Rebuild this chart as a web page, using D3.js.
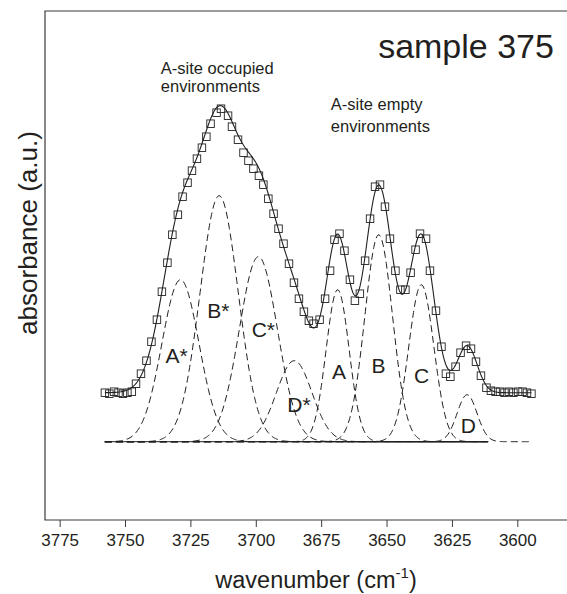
<!DOCTYPE html>
<html>
<head>
<meta charset="utf-8">
<script src="https://cdn.jsdelivr.net/npm/d3@7"></script>
<style>
	html, body { margin: 0; padding: 0; background: #fff; }
	svg { display: block; font-family: "Liberation Sans", Arial, sans-serif; }
</style>
</head>
<body>
<svg id="spectrum" width="567" height="594"></svg>
<script>
// measured spectrum (squares)
const wavenumber = [
	3757.7, 3756.0, 3754.2, 3752.5, 3750.8, 3749.1, 3747.4, 3745.8, 3743.9, 3741.8,
	3739.9, 3737.8, 3735.9, 3733.8, 3731.9, 3729.8, 3728.0, 3726.1, 3724.4, 3722.5,
	3720.6, 3718.9, 3717.3, 3715.0, 3713.3, 3710.6, 3709.1, 3706.8, 3704.7, 3702.8,
	3700.9, 3698.8, 3697.1, 3695.2, 3693.2, 3691.3, 3689.4, 3687.3, 3685.4, 3683.5,
	3681.6, 3679.7, 3677.9, 3675.6, 3673.5, 3671.6, 3669.9, 3668.0, 3666.1, 3664.0,
	3662.1, 3660.2, 3658.2, 3656.3, 3654.4, 3652.5, 3650.6, 3648.7, 3646.6, 3644.7,
	3642.8, 3640.8, 3638.9, 3637.2, 3634.9, 3633.4, 3631.1, 3629.0, 3627.3, 3625.6,
	3623.6, 3621.7, 3619.6, 3617.7, 3615.8, 3613.9, 3611.8, 3610.1, 3608.3, 3606.6,
	3604.9, 3603.2, 3601.5, 3599.7, 3598.0, 3596.3, 3594.6
];
const absorbance = [
	0.49, 0.48, 0.50, 0.49, 0.48, 0.49, 0.50, 0.58, 0.68, 0.81,
	1.00, 1.22, 1.50, 1.79, 2.07, 2.27, 2.45, 2.59, 2.71, 2.83,
	2.94, 3.05, 3.18, 3.29, 3.33, 3.26, 3.15, 3.02, 2.89, 2.81,
	2.73, 2.66, 2.57, 2.43, 2.28, 2.13, 1.98, 1.78, 1.59, 1.43,
	1.30, 1.21, 1.18, 1.22, 1.43, 1.71, 2.02, 2.08, 1.91, 1.62,
	1.41, 1.48, 1.81, 2.23, 2.55, 2.57, 2.35, 2.03, 1.71, 1.52,
	1.52, 1.69, 1.92, 2.08, 2.03, 1.71, 1.31, 0.95, 0.68, 0.65,
	0.75, 0.89, 0.96, 0.93, 0.80, 0.66, 0.54, 0.51, 0.50, 0.50,
	0.49, 0.50, 0.49, 0.50, 0.50, 0.49, 0.48
];

// fitted gaussian components
const bandNames = ["A*", "B*", "C*", "D*", "A", "B", "C", "D"];
const bandCenter = [3728.8, 3714.0, 3699.0, 3685.3, 3668.7, 3653.0, 3636.7, 3619.2];
const bandHeight = [1.62, 2.46, 1.85, 0.81, 1.52, 2.07, 1.57, 0.47];
const bandSigma = [7.1, 7.3, 7.3, 6.8, 4.4, 5.3, 4.8, 3.8];
const bandLabelX = [3730.3, 3714.3, 3697.1, 3683.5, 3668.2, 3653.1, 3636.6, 3618.7];
const bandLabelY = [0.79, 1.24, 1.05, 0.30, 0.63, 0.69, 0.59, 0.09];
const fitOffset = 0.49;
const componentEnd = 3611;

const xTicks = [3775, 3750, 3725, 3700, 3675, 3650, 3625, 3600];

const svg = d3.select("#spectrum");
const INK = "#231f20";

const x = d3.scaleLinear().domain([3780.6, 3579.85]).range([45, 570]);
const y = d3.scaleLinear().domain([-0.783, 4.307]).range([520, 11]);

const gauss = (i, w) => bandHeight[i] * Math.exp(-((w - bandCenter[i]) ** 2) / (2 * bandSigma[i] ** 2));

const wStart = wavenumber[0];
const wEnd = wavenumber[wavenumber.length - 1];
const grid = d3.range(wStart, wEnd - 0.01, -0.4);
grid.push(wEnd);

const line = d3.line().x((d) => x(d[0])).y((d) => y(d[1]));

// frame
svg.append("path")
	.attr("d", `M570,${y.range()[1]}H${x.range()[0]}V${y.range()[0]}H570`)
	.attr("fill", "none")
	.attr("stroke", "#3a3a3a")
	.attr("stroke-width", 1.2);

const xAxis = svg.append("g")
	.attr("transform", `translate(0,${y.range()[0]})`)
	.call(d3.axisBottom(x).tickValues(xTicks).tickSize(7).tickPadding(7).tickFormat(d3.format("d")));
xAxis.select(".domain").remove();
xAxis.selectAll(".tick line").attr("stroke", "#3a3a3a");
xAxis.selectAll(".tick text")
	.attr("fill", INK)
	.attr("font-size", 17)
	.attr("font-family", "Liberation Sans, Arial, sans-serif");

// baseline under the components
svg.append("path")
	.attr("d", line([[wStart, 0], [componentEnd, 0]]))
	.attr("stroke", INK)
	.attr("stroke-width", 1)
	.attr("fill", "none");

// dashed components
bandNames.forEach((name, i) => {
	const last = i === bandNames.length - 1 ? wEnd : componentEnd;
	const pts = grid.filter((w) => w >= last).map((w) => [w, gauss(i, w)]);
	svg.append("path")
		.attr("d", line(pts))
		.attr("fill", "none")
		.attr("stroke", INK)
		.attr("stroke-width", 1)
		.attr("stroke-dasharray", "7,4");
});

// fit = sum of components + offset
const fitPts = grid.map((w) => [w, fitOffset + d3.sum(bandNames, (_, i) => gauss(i, w))]);
svg.append("path")
	.attr("d", line(fitPts))
	.attr("fill", "none")
	.attr("stroke", INK)
	.attr("stroke-width", 1.1);

// data squares
const SQ = 7.5;
svg.append("g")
	.selectAll("rect")
	.data(wavenumber.map((w, i) => [w, absorbance[i]]))
	.join("rect")
	.attr("x", (d) => x(d[0]) - SQ / 2)
	.attr("y", (d) => y(d[1]) - SQ / 2)
	.attr("width", SQ)
	.attr("height", SQ)
	.attr("fill", "none")
	.attr("stroke", "#222")
	.attr("stroke-width", 0.9);

// band labels
svg.append("g")
	.selectAll("text")
	.data(bandNames)
	.join("text")
	.attr("x", (d, i) => x(bandLabelX[i]))
	.attr("y", (d, i) => y(bandLabelY[i]))
	.attr("text-anchor", "middle")
	.attr("font-size", 21)
	.attr("fill", INK)
	.text((d) => d);

// annotations
const note = (w, a, txt, size) => svg.append("text")
	.attr("x", x(w))
	.attr("y", y(a))
	.attr("font-size", size)
	.attr("fill", INK)
	.text(txt);

note(3736.3, 3.68, "A-site occupied", 16.5);
note(3736.3, 3.50, "environments", 16.5);
note(3671.3, 3.32, "A-site empty", 16.5);
note(3671.3, 3.10, "environments", 16.5);

svg.append("text")
	.attr("x", x(3586))
	.attr("y", y(3.84))
	.attr("text-anchor", "end")
	.attr("font-size", 34)
	.attr("fill", INK)
	.text("sample 375");

// axis titles
const xTitle = svg.append("text")
	.attr("x", 316)
	.attr("y", 588)
	.attr("text-anchor", "middle")
	.attr("font-size", 23.5)
	.attr("fill", INK);
xTitle.append("tspan").text("wavenumber (cm");
xTitle.append("tspan").attr("font-size", 15).attr("dy", -10).text("-1");
xTitle.append("tspan").attr("dy", 10).text(")");

svg.append("text")
	.attr("transform", "translate(37,233) rotate(-90)")
	.attr("text-anchor", "middle")
	.attr("font-size", 26)
	.attr("fill", INK)
	.text("absorbance (a.u.)");
</script>
</body>
</html>
